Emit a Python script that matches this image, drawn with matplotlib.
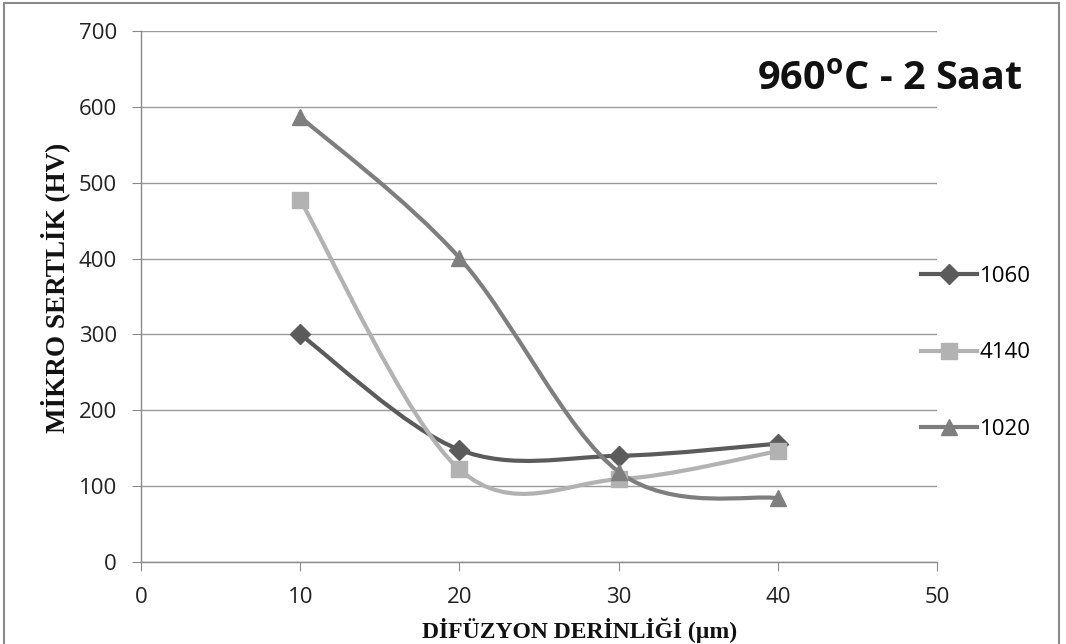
import matplotlib
matplotlib.use("Agg")
import matplotlib.pyplot as plt
from matplotlib.path import Path
from matplotlib.patches import PathPatch, Rectangle
from matplotlib.lines import Line2D

# Diffusion depth (µm) and micro-hardness (HV) for each steel grade
depth = [10, 20, 30, 40]
hv_1060 = [300, 148, 140, 156]
hv_4140 = [477, 122, 109, 146]
hv_1020 = [587, 401, 119, 84]

series = [
    ("1060", hv_1060, "#5b5b5b", "D", 10),
    ("4140", hv_4140, "#b2b2b2", "s", 11),
    ("1020", hv_1020, "#7e7e7e", "^", 12),
]

plt.rcParams["mathtext.fontset"] = "custom"
plt.rcParams["mathtext.bf"] = "Open Sans:bold"
plt.rcParams["mathtext.rm"] = "Open Sans:bold"


def smooth_path(xs, ys):
    """Cardinal (Catmull-Rom) Bezier path through the points."""
    pts = list(zip(xs, ys))
    verts = [pts[0]]
    codes = [Path.MOVETO]
    n = len(pts)
    for i in range(n - 1):
        p0 = pts[i - 1] if i > 0 else pts[i]
        p1 = pts[i]
        p2 = pts[i + 1]
        p3 = pts[i + 2] if i + 2 < n else pts[i + 1]
        c1 = (p1[0] + (p2[0] - p0[0]) / 6, p1[1] + (p2[1] - p0[1]) / 6)
        c2 = (p2[0] - (p3[0] - p1[0]) / 6, p2[1] - (p3[1] - p1[1]) / 6)
        verts += [c1, c2, p2]
        codes += [Path.CURVE4] * 3
    return Path(verts, codes)


fig = plt.figure(figsize=(10.66, 6.44), dpi=100)
ax = fig.add_axes([141 / 1066, 1 - 562 / 644, (937 - 141) / 1066, (562 - 31) / 644])

ax.set_xlim(0, 50)
ax.set_ylim(0, 700)
ax.set_xticks(range(0, 51, 10))
ax.set_yticks(range(0, 701, 100))
ax.yaxis.grid(True, color="#9a9a9a", linewidth=1.0)
ax.set_axisbelow(True)
for side in ("top", "right"):
    ax.spines[side].set_visible(False)
for side in ("left", "bottom"):
    ax.spines[side].set_color("#8a8a8a")
    ax.spines[side].set_linewidth(1.0)
ax.tick_params(axis="both", direction="out", length=6.2, color="#8a8a8a",
               labelsize=16, labelcolor="#222222")
ax.tick_params(axis="x", pad=12)
ax.tick_params(axis="y", pad=11)
for lab in ax.get_xticklabels() + ax.get_yticklabels():
    lab.set_fontfamily("Open Sans")

handles = []
for name, vals, color, marker, ms in series:
    ax.add_patch(PathPatch(smooth_path(depth, vals), facecolor="none",
                           edgecolor=color, linewidth=3.0, zorder=3,
                           capstyle="round"))
    ax.plot(depth, vals, linestyle="none", marker=marker, markersize=ms,
            color=color, markeredgecolor=color, zorder=4, clip_on=False)
    handles.append(Line2D([], [], color=color, linewidth=3.0, marker=marker,
                          markersize=ms, markeredgecolor=color))

fig.legend(handles, [s[0] for s in series], loc="center left",
           bbox_to_anchor=(921 / 1066, 1 - 353 / 644), frameon=False,
           prop={"family": "Open Sans", "size": 16}, handlelength=2.5,
           handletextpad=0.15, labelspacing=2.5, borderaxespad=0,
           borderpad=0)

fig.text(890 / 1066, 1 - 79 / 644, r"960$^{\mathbf{o}}$C - 2 Saat",
         ha="center", va="center", fontsize=28.5, fontweight="bold",
         family="Open Sans", color="#111111")

fig.text(55 / 1066, 1 - 288 / 644, "MİKRO SERTLİK (HV)", rotation=90,
         ha="center", va="center", fontsize=19.5, fontweight="bold",
         family="Liberation Serif", color="#111111")
fig.text(580 / 1066, 1 - 630 / 644, "DİFÜZYON DERİNLİĞİ (µm)",
         ha="center", va="center", fontsize=17, fontweight="bold",
         family="Liberation Serif", color="#111111")

# Outer chart frame
fig.patches.append(Rectangle((4 / 1066, -0.01), (1059 - 4) / 1066, 1.01 - 3 / 644,
                             transform=fig.transFigure, fill=False,
                             edgecolor="#8a8a8a", linewidth=1.5))

fig.savefig("out.png", dpi=100)
